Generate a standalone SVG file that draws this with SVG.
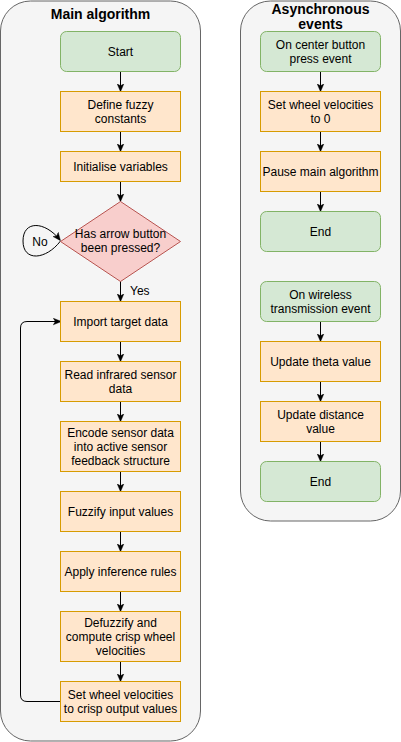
<svg xmlns="http://www.w3.org/2000/svg" width="401" height="742" viewBox="0 0 401 742">
<defs>
<marker id="arr" viewBox="0 0 10 10" refX="9" refY="5" markerWidth="8" markerHeight="8" markerUnits="userSpaceOnUse" orient="auto">
<path d="M0,0.8 L10,5 L0,9.2 L2.5,5 Z" fill="#000" stroke="#000" stroke-width="0.5"/>
</marker>
<style>
.cont{fill:#f5f5f5;stroke:#666666;stroke-width:1}
.green{fill:#d5e8d4;stroke:#82b366;stroke-width:1}
.orange{fill:#ffe6cc;stroke:#d79b00;stroke-width:1}
.red{fill:#f8cecc;stroke:#b85450;stroke-width:1}
text{font-family:"Liberation Sans",Arial,Helvetica,sans-serif;font-size:12px;fill:#000;text-anchor:middle}
.title{font-size:14px;font-weight:bold}
.edge{fill:none;stroke:#000;stroke-width:1;marker-end:url(#arr)}
</style>
</defs>
<g id="container-main">
<rect class="cont" x="0.5" y="1" width="200" height="740" rx="30" ry="30"/>
<text class="title" x="100.5" y="18.5">Main algorithm</text>
</g>
<g id="container-async">
<rect class="cont" x="240.5" y="1" width="160" height="520" rx="30" ry="30"/>
<text class="title" x="320.5" y="13.5">Asynchronous</text>
<text class="title" x="320.5" y="29">events</text>
</g>
<g id="connectors">
<path class="edge" d="M120.5,71 V91"/>
<path class="edge" d="M120.5,131 V151"/>
<path class="edge" d="M120.5,181 V201"/>
<path class="edge" d="M60.5,241 C46,260 23,262 23,241 C23,220 45,221 60,240"/>
<text x="40" y="245.5">No</text>
<path class="edge" d="M120.5,281 V301"/>
<text x="130" y="294.5" style="text-anchor:start">Yes</text>
<path class="edge" d="M120.5,341 V361"/>
<path class="edge" d="M120.5,401 V421"/>
<path class="edge" d="M120.5,471 V491"/>
<path class="edge" d="M120.5,531 V551"/>
<path class="edge" d="M120.5,591 V611"/>
<path class="edge" d="M120.5,661 V681"/>
<path class="edge" d="M60.5,701.5 H27 Q20.5,701.5 20.5,695 V328 Q20.5,321.5 27,321.5 H60.5"/>
<path class="edge" d="M320.5,71 V91"/>
<path class="edge" d="M320.5,131 V151"/>
<path class="edge" d="M320.5,191 V211"/>
<path class="edge" d="M320.5,321 V341"/>
<path class="edge" d="M320.5,381 V401"/>
<path class="edge" d="M320.5,441 V461"/>
</g>
<g id="start">
<rect class="green" x="60.5" y="31.5" width="120" height="40" rx="6"/>
<text x="120.5" y="55.5">Start</text>
</g>
<g id="define-fuzzy">
<rect class="orange" x="60.5" y="91.5" width="120" height="40"/>
<text x="120.5" y="108.5">Define fuzzy</text>
<text x="120.5" y="122.5">constants</text>
</g>
<g id="init-vars">
<rect class="orange" x="60.5" y="151.5" width="120" height="30"/>
<text x="120.5" y="170.5">Initialise variables</text>
</g>
<g id="decision">
<polygon class="red" points="120.5,201.5 180.5,241.5 120.5,281.5 60.5,241.5"/>
<text x="120.5" y="238">Has arrow button</text>
<text x="120.5" y="252">been pressed?</text>
</g>
<g id="import-target">
<rect class="orange" x="60.5" y="301.5" width="120" height="40"/>
<text x="120.5" y="325.5">Import target data</text>
</g>
<g id="read-ir">
<rect class="orange" x="60.5" y="361.5" width="120" height="40"/>
<text x="120.5" y="378.5">Read infrared sensor</text>
<text x="120.5" y="392.5">data</text>
</g>
<g id="encode">
<rect class="orange" x="60.5" y="421.5" width="120" height="50"/>
<text x="120.5" y="436.5">Encode sensor data</text>
<text x="120.5" y="450.5">into active sensor</text>
<text x="120.5" y="464.5">feedback structure</text>
</g>
<g id="fuzzify">
<rect class="orange" x="60.5" y="491.5" width="120" height="40"/>
<text x="120.5" y="515.5">Fuzzify input values</text>
</g>
<g id="inference">
<rect class="orange" x="60.5" y="551.5" width="120" height="40"/>
<text x="120.5" y="575.5">Apply inference rules</text>
</g>
<g id="defuzzify">
<rect class="orange" x="60.5" y="611.5" width="120" height="50"/>
<text x="120.5" y="626.5">Defuzzify and</text>
<text x="120.5" y="640.5">compute crisp wheel</text>
<text x="120.5" y="654.5">velocities</text>
</g>
<g id="set-wheel">
<rect class="orange" x="60.5" y="681.5" width="120" height="40"/>
<text x="120.5" y="698.5">Set wheel velocities</text>
<text x="120.5" y="712.5">to crisp output values</text>
</g>
<g id="center-button">
<rect class="green" x="260.5" y="31.5" width="120" height="40" rx="6"/>
<text x="320.5" y="48.5">On center button</text>
<text x="320.5" y="62.5">press event</text>
</g>
<g id="set-zero">
<rect class="orange" x="260.5" y="91.5" width="120" height="40"/>
<text x="320.5" y="108.5">Set wheel velocities</text>
<text x="320.5" y="122.5">to 0</text>
</g>
<g id="pause">
<rect class="orange" x="260.5" y="151.5" width="120" height="40"/>
<text x="320.5" y="175.5">Pause main algorithm</text>
</g>
<g id="end1">
<rect class="green" x="260.5" y="211.5" width="120" height="40" rx="6"/>
<text x="320.5" y="235.5">End</text>
</g>
<g id="wireless">
<rect class="green" x="260.5" y="281.5" width="120" height="40" rx="6"/>
<text x="320.5" y="298.5">On wireless</text>
<text x="320.5" y="312.5">transmission event</text>
</g>
<g id="theta">
<rect class="orange" x="260.5" y="341.5" width="120" height="40"/>
<text x="320.5" y="365.5">Update theta value</text>
</g>
<g id="distance">
<rect class="orange" x="260.5" y="401.5" width="120" height="40"/>
<text x="320.5" y="418.5">Update distance</text>
<text x="320.5" y="432.5">value</text>
</g>
<g id="end2">
<rect class="green" x="260.5" y="461.5" width="120" height="40" rx="6"/>
<text x="320.5" y="485.5">End</text>
</g>
</svg>
